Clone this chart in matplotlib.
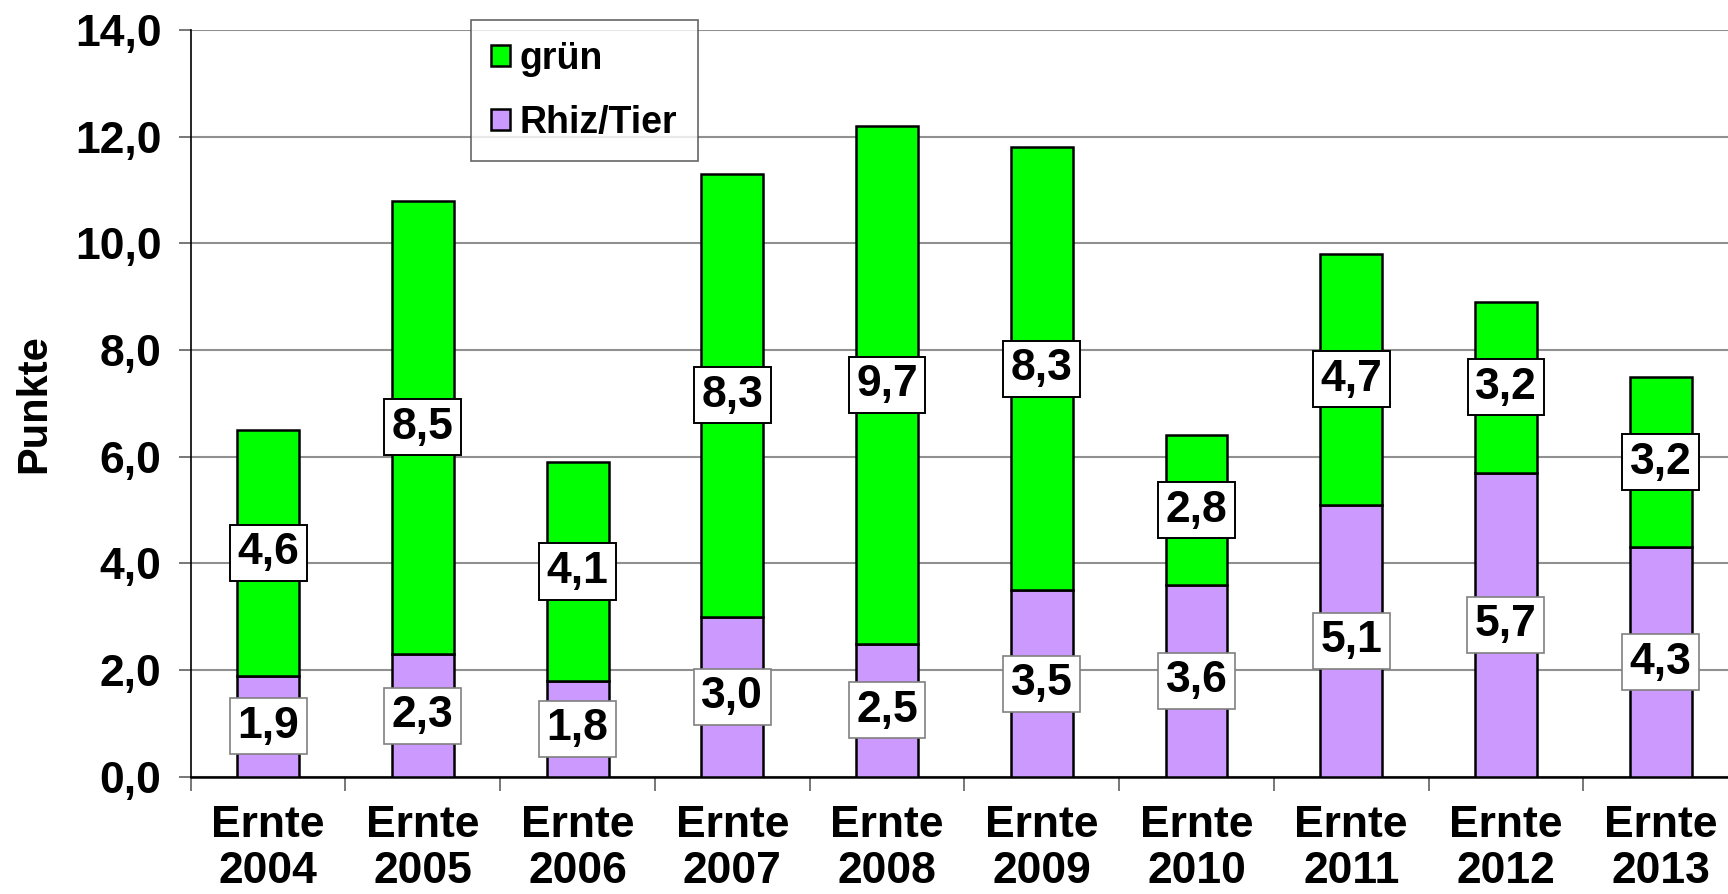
import matplotlib.pyplot as plt
import numpy as np

plt.rcParams['font.family'] = ['Liberation Sans', 'DejaVu Sans']
plt.rcParams['font.weight'] = 'bold'

# --- data ---
years = ['2004', '2005', '2006', '2007', '2008', '2009', '2010', '2011', '2012', '2013']
categories = ['Ernte\n' + y for y in years]
rhiz_tier = [1.9, 2.3, 1.8, 3.0, 2.5, 3.5, 3.6, 5.1, 5.7, 4.3]
gruen = [4.6, 8.5, 4.1, 8.3, 9.7, 8.3, 2.8, 4.7, 3.2, 3.2]

col_purple = '#CC99FF'
col_green = '#00FF00'

fig = plt.figure(figsize=(17.28, 8.94), dpi=100)
ax = fig.add_axes([0.1104, 0.1309, 0.8954, 0.8358])

x = np.arange(len(categories))
w = 0.4
b1 = ax.bar(x, rhiz_tier, w, color=col_purple, edgecolor='black', linewidth=1.8,
            label='Rhiz/Tier', zorder=3)
b2 = ax.bar(x, gruen, w, bottom=rhiz_tier, color=col_green, edgecolor='black',
            linewidth=1.8, label='grün', zorder=3)

# value boxes in the middle of each segment
for i in range(len(x)):
    ax.text(x[i], rhiz_tier[i] / 2, f'{rhiz_tier[i]:.1f}'.replace('.', ','),
            ha='center', va='center', fontsize=32, fontweight='bold', zorder=5,
            bbox=dict(boxstyle='square,pad=0.17', fc='white', ec='#808080', lw=1.2))
    ax.text(x[i], rhiz_tier[i] + gruen[i] / 2, f'{gruen[i]:.1f}'.replace('.', ','),
            ha='center', va='center', fontsize=32, fontweight='bold', zorder=5,
            bbox=dict(boxstyle='square,pad=0.17', fc='white', ec='black', lw=1.4))

ax.set_xlim(-0.5, len(x) - 0.5)
ax.set_ylim(0, 14)
ax.set_yticks(np.arange(0, 14.1, 2))
ax.set_yticklabels([f'{v:.1f}'.replace('.', ',') for v in np.arange(0, 14.1, 2)],
                   fontsize=32, fontweight='bold')
ax.yaxis.grid(True, color='#909090', linewidth=1.5, zorder=0)
ax.set_axisbelow(True)

ax.set_xticks(x)
ax.set_xticklabels(categories, fontsize=32, fontweight='bold', linespacing=1.15)
ax.set_xticks(np.arange(-0.5, len(x), 1), minor=True)
ax.tick_params(axis='x', which='major', length=0, pad=20)
ax.tick_params(axis='x', which='minor', length=10, width=1.2, color='#606060')
ax.tick_params(axis='y', length=9, width=1.2, color='#606060', pad=12)

for s in ['top', 'right']:
    ax.spines[s].set_visible(False)
ax.spines['left'].set_linewidth(1.2)
ax.spines['bottom'].set_linewidth(1.8)

ax.set_ylabel('Punkte', fontsize=30, fontweight='bold')
ax.yaxis.set_label_coords(-0.088, 0.5)

leg = ax.legend(handles=[b2, b1], loc='upper left', bbox_to_anchor=(0.181, 1.013),
                borderaxespad=0, frameon=True, fancybox=False, edgecolor='#404040',
                handlelength=0.5, handleheight=0.5, handletextpad=0.25,
                labelspacing=0.75, borderpad=0.55, prop={'weight': 'bold', 'size': 27})
leg.get_frame().set_linewidth(1.2)
leg.set_zorder(10)

fig.savefig('out.png', dpi=100)
